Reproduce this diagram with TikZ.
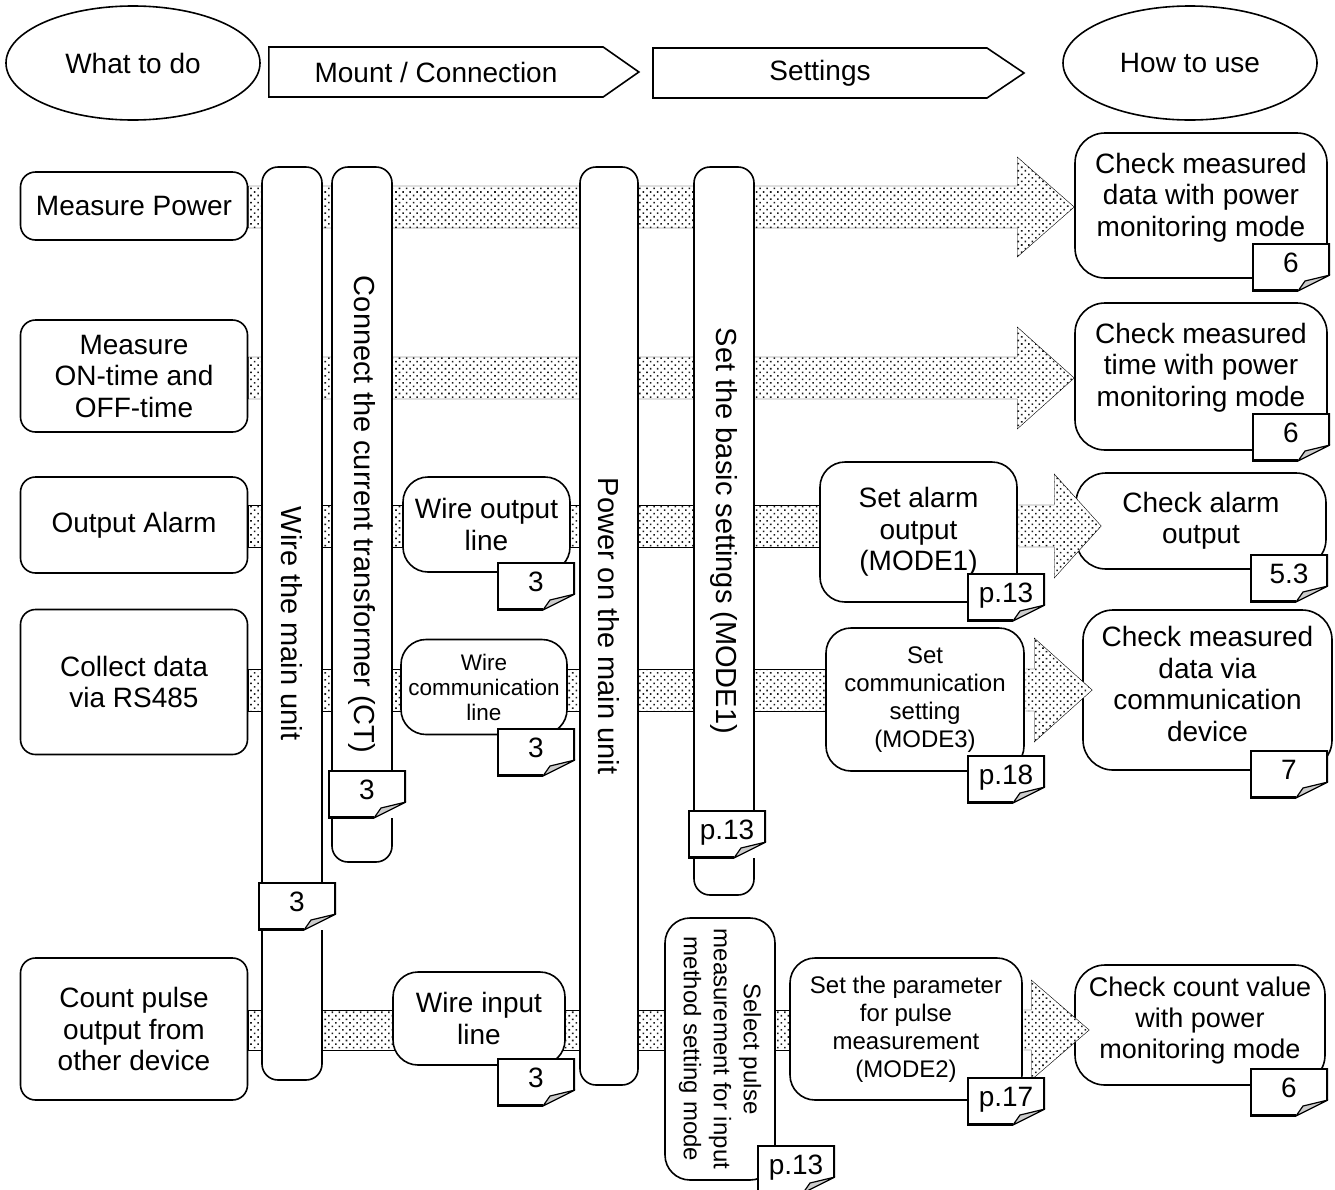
\documentclass[tikz,border=0pt]{standalone}
\usepackage{fontspec}
\setmainfont{Liberation Sans}
\usetikzlibrary{positioning,shapes.geometric,shapes.symbols,patterns.meta,calc}
\pgfdeclarelayer{background}
\pgfsetlayers{background,main}

\begin{document}
\begin{tikzpicture}[%Work flow
  x=1pt, y=-1pt, line width=1.6pt,
  every node/.style={font=\fontsize{28}{31.5}\selectfont, align=center},
  headellipse/.style={ellipse, draw=black, minimum width=254pt, minimum height=114pt},
  headarrow/.style={signal, signal to=east, draw=black, minimum height=50pt},
  taskbox/.style={rectangle, draw=black, fill=white, rounded corners=15pt, minimum width=227pt},
  stepbox/.style={rectangle, draw=black, fill=white, rounded corners=25pt},
  checkbox/.style={rectangle, draw=black, fill=white, rounded corners=30pt},
  barnode/.style={rectangle, draw=black, fill=white, rounded corners=16pt, rotate=-90,
    minimum height=60pt, font=\fontsize{29}{32}\selectfont},
  band/.style={draw=black, preaction={fill=white},
    pattern={Dots[distance=5pt, radius=1.1pt, angle=45]}, pattern color=black!90},
  pagetag/.style={fill=white, minimum width=78pt, minimum height=48pt, inner sep=0pt,
    text height=20pt, text depth=10pt,
    path picture={
      \draw[line width=3.2pt] (path picture bounding box.south west)
        -- (path picture bounding box.north west) -- (path picture bounding box.north east)
        -- ([yshift=16pt]path picture bounding box.south east);
      \draw[line width=3.2pt] (path picture bounding box.south west)
        -- ([xshift=-32pt]path picture bounding box.south east);
      \filldraw[fill=gray!40, line width=1.2pt] ([yshift=16pt]path picture bounding box.south east)
        -- ([xshift=-25pt, yshift=10pt]path picture bounding box.south east)
        -- ([xshift=-32pt]path picture bounding box.south east) -- cycle;
    }}
]
\useasboundingbox (0,0) rectangle (1335,1189);

%Header
\node[headellipse] (whatdo) at (133,63) {What to do};
\node[headarrow, minimum width=370pt, signal pointer angle=70] (mount) at (436,72) {Mount / Connection};
\node[headarrow, minimum width=371pt, signal pointer angle=68] (settings) at (820,73) {Settings};
\node[headellipse] (howto) at (1190,63) {How to use};

%Rows of the bands
\coordinate (row1) at (0,207);
\coordinate (row2) at (0,378);
\coordinate (row3) at (0,526);
\coordinate (row4) at (0,690);
\coordinate (row5) at (0,1030);

%What to do
\node[taskbox, minimum height=68pt] (mpower) at (134,206) {Measure Power};
\node[taskbox, minimum height=112pt] (ontime) at (134,376) {Measure\\ON-time and\\OFF-time};
\node[taskbox, minimum height=96pt] (alarm) at (134,525) {Output Alarm};
\node[taskbox, minimum height=145pt] (rs485) at (134,682) {Collect data\\via RS485};
\node[taskbox, minimum height=142pt] (pulse) at (134,1029) {Count pulse\\output from\\other device};

%Bars
\node[barnode, minimum width=913pt] (wiremain) at (292,623.5) {Wire the main unit};
\node[barnode, minimum width=695pt] (connectct) at (362,514.5) {Connect the current transformer (CT)};
\node[barnode, minimum width=918pt, minimum height=58pt] (poweron) at (609,626) {Power on the main unit};
\node[barnode, minimum width=728pt] (basicset) at (724,531) {Set the basic settings (MODE1)};

%Steps
\node[stepbox, minimum width=167pt, minimum height=95pt] (wireout) at (486.5,524.5) {Wire output\\line};
\node[stepbox, minimum width=166pt, minimum height=95pt, font=\fontsize{22.5}{25}\selectfont] (wirecomm) at (484,687) {Wire\\communication\\line};
\node[stepbox, minimum width=172pt, minimum height=93pt] (wirein) at (479,1018.5) {Wire input\\line};
\node[stepbox, rotate=-90, minimum width=262pt, minimum height=110pt, font=\fontsize{24}{30}\selectfont] (selpulse) at (720,1049) {Select pulse\\measurement for input\\method setting mode};
\node[stepbox, minimum width=197pt, minimum height=140pt] (setalarm) at (918.5,532) {Set alarm\\output\\(MODE1)};
\node[stepbox, minimum width=198pt, minimum height=143pt, font=\fontsize{24}{28}\selectfont] (setcomm) at (925,699.5) {Set\\communication\\setting\\(MODE3)};
\node[stepbox, minimum width=232pt, minimum height=142pt, font=\fontsize{24}{28}\selectfont] (setparam) at (906,1029) {Set the parameter\\for pulse\\measurement\\(MODE2)};

%How to use
\node[checkbox, minimum width=252pt, minimum height=145pt, text depth=22pt] (chkdata) at (1201,205.5) {Check measured\\data with power\\monitoring mode};
\node[checkbox, minimum width=252pt, minimum height=147pt, text depth=24pt] (chktime) at (1201,376.5) {Check measured\\time with power\\monitoring mode};
\node[checkbox, minimum width=250pt, minimum height=96pt] (chkalarm) at (1201,521) {Check alarm\\output};
\node[checkbox, minimum width=249pt, minimum height=160pt, text depth=12pt] (chkcomm) at (1207.5,690) {Check measured\\data via\\communication\\device};
\node[checkbox, minimum width=250pt, minimum height=120pt, text depth=14pt, inner xsep=4pt,
  font=\fontsize{27}{31}\selectfont] (chkcount) at (1200,1025) {Check count value\\with power\\monitoring mode};

%Bands
\begin{pgfonlayer}{background}
\draw[band] let \p1=(mpower.east |- row1), \p2=(chkdata.west |- row1) in
  (\x1,{\y1+21pt}) -- ({\x2-57pt},{\y1+21pt}) -- ({\x2-57pt},{\y1+50pt}) -- (\x2,\y1)
  -- ({\x2-57pt},{\y1-50pt}) -- ({\x2-57pt},{\y1-21pt}) -- (\x1,{\y1-21pt}) -- cycle;
\draw[band] let \p1=(ontime.east |- row2), \p2=(chktime.west |- row2) in
  (\x1,{\y1+21pt}) -- ({\x2-57pt},{\y1+21pt}) -- ({\x2-57pt},{\y1+51pt}) -- (\x2,\y1)
  -- ({\x2-57pt},{\y1-51pt}) -- ({\x2-57pt},{\y1-21pt}) -- (\x1,{\y1-21pt}) -- cycle;
\draw[band] let \p1=(alarm.east |- row3), \p2=(setalarm.west |- row3) in
  (\x1,{\y1+21pt}) rectangle (\x2,{\y1-21pt});
\draw[band] let \p1=(rs485.east |- row4), \p2=(setcomm.west |- row4) in
  (\x1,{\y1+21pt}) rectangle (\x2,{\y1-21pt});
\draw[band] let \p1=(pulse.east |- row5), \p2=(setparam.west |- row5) in
  (\x1,{\y1+20pt}) rectangle (\x2,{\y1-20pt});
\end{pgfonlayer}

\draw[band] let \p1=(setalarm.east |- row3), \p2=(chkalarm.west |- row3) in
  ({\x1+0.8pt},{\y1+21pt}) -- ({\x2-21pt},{\y1+21pt}) -- ({\x2-21pt},{\y1+52pt}) -- ({\x2+26pt},\y1)
  -- ({\x2-21pt},{\y1-52pt}) -- ({\x2-21pt},{\y1-21pt}) -- ({\x1+0.8pt},{\y1-21pt});
\draw[band] let \p1=(setcomm.east |- row4), \p2=(chkcomm.west |- row4) in
  ({\x1+0.8pt},{\y1+21pt}) -- ({\x2-48pt},{\y1+21pt}) -- ({\x2-48pt},{\y1+52pt}) -- ({\x2+10pt},\y1)
  -- ({\x2-48pt},{\y1-52pt}) -- ({\x2-48pt},{\y1-21pt}) -- ({\x1+0.8pt},{\y1-21pt});
\draw[band] let \p1=(setparam.east |- row5), \p2=(chkcount.west |- row5) in
  ({\x1+0.8pt},{\y1+20pt}) -- ({\x2-43pt},{\y1+20pt}) -- ({\x2-43pt},{\y1+50pt}) -- ({\x2+15pt},\y1)
  -- ({\x2-43pt},{\y1-50pt}) -- ({\x2-43pt},{\y1-20pt}) -- ({\x1+0.8pt},{\y1-20pt});

%Page tags
\node[pagetag] (tagdata) at (1291,267) {6};
\node[pagetag] (tagtime) at (1291,437) {6};
\node[pagetag] (tagout) at (536,586) {3};
\node[pagetag] (tagsetalarm) at (1006,597) {p.13};
\node[pagetag] (tagalarm) at (1289,578) {5.3};
\node[pagetag] (tagcomm) at (536,752) {3};
\node[pagetag] (tagsetcomm) at (1006,779) {p.18};
\node[pagetag] (tagchkcomm) at (1289,774) {7};
\node[pagetag] (tagct) at (367,794) {3};
\node[pagetag] (tagbasic) at (727,834) {p.13};
\node[pagetag] (tagmain) at (297,906) {3};
\node[pagetag] (tagin) at (536,1082) {3};
\node[pagetag] (tagparam) at (1006,1101) {p.17};
\node[pagetag] (tagcount) at (1289,1092) {6};
\node[pagetag] (tagpulse) at (796,1169) {p.13};
\end{tikzpicture}
\end{document}
